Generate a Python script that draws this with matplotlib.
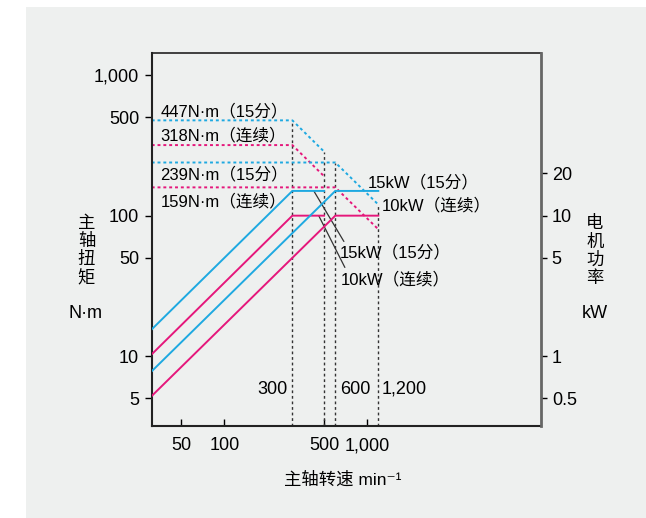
import matplotlib
matplotlib.use("Agg")
import matplotlib.pyplot as plt
from matplotlib.patches import Rectangle

plt.rcParams['font.family'] = ['Liberation Sans', 'Noto Sans CJK SC', 'DejaVu Sans']

# speeds (min-1) of the curve break points
speed_300 = [31, 300, 500]
speed_600 = [31, 600, 1200]

# spindle torque, N·m (dotted)
torque_15_300 = [477, 477, 286]
torque_10_300 = [318, 318, 191]
torque_15_600 = [239, 239, 120]
torque_10_600 = [159, 159, 80]

# motor power, kW (solid)
power_15_300 = [1.55, 15, 15]
power_10_300 = [1.03, 10, 10]
power_15_600 = [0.78, 15, 15]
power_10_600 = [0.52, 10, 10]

# vertical guide lines: speed and torque at the top
guide_speeds = [300, 500, 600, 1200]
guide_tops = [477, 286, 239, 120]
guide_labels = ["300", "600", "1,200"]

torque_labels = ["447N·m（15分）", "318N·m（连续）", "239N·m（15分）", "159N·m（连续）"]

x_ticks = [50, 100, 500, 1000]
x_ticklabels = ["50", "100", "500", "1,000"]
y_ticks = [5, 10, 50, 100, 500, 1000]
y_ticklabels = ["5", "10", "50", "100", "500", "1,000"]
p_ticks = [0.5, 1, 5, 10, 20]
p_ticklabels = ["0.5", "1", "5", "10", "20"]

blue = "#1ea9e1"
pink = "#e5177b"
grey_bg = "#eef0ef"

W, H = 646, 518
fig = plt.figure(figsize=(W / 100, H / 100), dpi=100)
fig.patch.set_facecolor("white")
fig.patches.append(Rectangle((26 / W, 0), 1, 1 - 7 / H, transform=fig.transFigure,
                             facecolor=grey_bg, edgecolor="none", zorder=-10))

ax = fig.add_axes([151.7 / W, 1 - 426 / H, (540.7 - 151.7) / W, (426 - 53.3) / H])
ax.set_facecolor("none")
ax.set_xscale("log")
ax.set_yscale("log")
xmin, xmax = 31, 16500
ymin, ymax = 3.18, 1432
ax.set_xlim(xmin, xmax)
ax.set_ylim(ymin, ymax)

ax2 = ax.twinx()
ax2.set_yscale("log")
ax2.set_ylim(ymin / 10, ymax / 10)

dot = (0, (1.5, 1.5))
# vertical guides
for s, t in zip(guide_speeds, guide_tops):
    ax.plot([s, s], [ymin, t], color="#333333", lw=1, linestyle=(0, (2, 2)))

# torque curves
ax.plot(speed_300, torque_15_300, color=blue, lw=1.4, linestyle=dot)
ax.plot(speed_300, torque_10_300, color=pink, lw=1.4, linestyle=dot)
ax.plot(speed_600, torque_15_600, color=blue, lw=1.4, linestyle=dot)
ax.plot(speed_600, torque_10_600, color=pink, lw=1.4, linestyle=dot)

# power curves
ax2.plot(speed_300, power_15_300, color=blue, lw=1.4)
ax2.plot(speed_300, power_10_300, color=pink, lw=1.4)
ax2.plot(speed_600, power_15_600, color=blue, lw=1.4)
ax2.plot(speed_600, power_10_600, color=pink, lw=1.4)

# leader lines to the lower power labels
ax.annotate("", xy=(424, 150), xytext=(689, 65.5),
            arrowprops=dict(arrowstyle="-", color="#333333", lw=0.9, shrinkA=0, shrinkB=0))
ax.annotate("", xy=(459, 100), xytext=(700, 42.8),
            arrowprops=dict(arrowstyle="-", color="#333333", lw=0.9, shrinkA=0, shrinkB=0))

# ticks
ax.set_xticks(x_ticks)
ax.set_xticklabels(x_ticklabels)
ax.set_yticks(y_ticks)
ax.set_yticklabels(y_ticklabels)
ax.minorticks_off()
ax2.set_yticks(p_ticks)
ax2.set_yticklabels(p_ticklabels)
ax2.minorticks_off()
ax.tick_params(axis="x", direction="in", length=5, width=1, pad=8, labelsize=13)
ax.tick_params(axis="y", direction="out", length=5, width=1, pad=4, labelsize=13)
ax2.tick_params(axis="y", direction="out", length=4, width=1, pad=4, labelsize=13)

for sp in ["left", "bottom", "top"]:
    ax.spines[sp].set_color("#222222")
ax.spines["left"].set_linewidth(1.5)
ax.spines["bottom"].set_linewidth(1.5)
ax.spines["top"].set_linewidth(1.2)
ax.spines["right"].set_visible(False)
for sp in ["left", "bottom", "top"]:
    ax2.spines[sp].set_visible(False)
ax2.spines["right"].set_color("#666666")
ax2.spines["right"].set_linewidth(2)

# text labels (pixel positions)
def ftext(x, y, s, **kw):
    fig.text(x / W, 1 - y / H, s, va="center", **kw)

for lab, y in zip(torque_labels, [111, 135, 174, 201]):
    ftext(160.5, y, lab, ha="left", fontsize=12)

ftext(368, 182, "15kW（15分）", ha="left", fontsize=12)
ftext(381.5, 205, "10kW（连续）", ha="left", fontsize=12)
ftext(340, 252, "15kW（15分）", ha="left", fontsize=12)
ftext(340.5, 279, "10kW（连续）", ha="left", fontsize=12)

ftext(272, 389, guide_labels[0], ha="center", fontsize=13)
ftext(355, 389, guide_labels[1], ha="center", fontsize=13)
ftext(404, 389, guide_labels[2], ha="center", fontsize=13)

for ch, y in zip("主轴扭矩", [223, 241, 259, 278]):
    ftext(86.5, y, ch, ha="center", fontsize=12.5)
ftext(85, 314, "N·m", ha="center", fontsize=13)
for ch, y in zip("电机功率", [223, 242, 260, 278]):
    ftext(595, y, ch, ha="center", fontsize=12.5)
ftext(595, 313, "kW", ha="center", fontsize=13)

ftext(343, 480, "主轴转速 min⁻¹", ha="center", fontsize=12.5)

fig.savefig("out.png", dpi=100, facecolor=fig.get_facecolor())
